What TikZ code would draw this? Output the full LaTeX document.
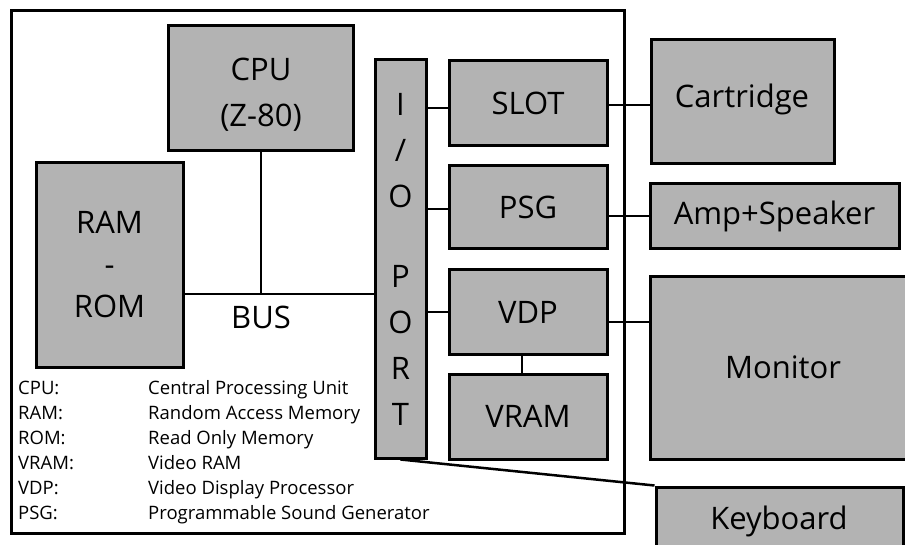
\documentclass[tikz,border=0pt]{standalone}
\usepackage{fontspec}
\setmainfont{Open Sans}
\definecolor{boxgray}{HTML}{B3B3B3}
\begin{document}
\begin{tikzpicture}[x=1pt,y=-1pt,
  box/.style={draw=black, line width=3pt, fill=boxgray, inner sep=0pt, align=center,
    font=\fontsize{31}{46}\selectfont},
  lbl/.style={inner sep=0pt, align=center, font=\fontsize{31}{46}\selectfont},
  conn/.style={draw=black, line width=2.5pt},
  legend/.style={anchor=base west, inner sep=0pt, font=\fontsize{18.5}{20}\selectfont}]
\useasboundingbox (0,0) rectangle (905,545);
\clip (0,0) rectangle (905,545);
% outer frame
\draw[line width=3pt] (11,11) rectangle (624,533);
% boxes
\node[box, minimum width=185pt, minimum height=125pt] (cpu) at (260.5,88.5) {};
\node[lbl] (cputext) at (261,95) {CPU\\(Z-80)};
\node[box, minimum width=147pt, minimum height=204pt, font=\fontsize{31}{42}\selectfont] (ram) at (109.5,265) {RAM\\-\\ROM};
\node[box, minimum width=51pt, minimum height=398pt, font=\fontsize{31}{46}\selectfont] (io) at (400.5,259) {I\\/\\O\\[34pt]P\\O\\R\\T};
\node[box, minimum width=158pt, minimum height=85pt] (slot) at (528,103.5) {SLOT};
\node[box, minimum width=158pt, minimum height=83pt] (psg) at (528,207.5) {PSG};
\node[box, minimum width=158pt, minimum height=84pt] (vdp) at (528,312) {VDP};
\node[box, minimum width=158pt, minimum height=85pt] (vram) at (528,416.5) {VRAM};
\node[box, minimum width=183pt, minimum height=124pt] (cart) at (742.5,102) {};
\node[lbl] (carttext) at (742,99) {Cartridge};
\node[box, minimum width=249pt, minimum height=65pt] (amp) at (774.5,216.5) {Amp+Speaker};
\node[box, minimum width=262pt, minimum height=182pt] (mon) at (781,368) {};
\node[lbl] (montext) at (783,367) {Monitor};
\node[box, minimum width=247pt, minimum height=73pt] (kbd) at (779.5,523.5) {};
\node[lbl] (kbdtext) at (779,521) {Keyboard};
% connectors
\coordinate (bus) at (261,294);
\draw[conn] (cpu.south -| bus) -- (bus);
\draw[conn] (ram.east |- bus) -- (io.west |- bus);
\node[lbl] (buslabel) at (261,317) {BUS};
\draw[conn] (io.east |- 0,108) -- (slot.west |- 0,108);
\draw[conn] (io.east |- 0,209) -- (psg.west |- 0,209);
\draw[conn] (io.east |- 0,312) -- (vdp.west |- 0,312);
\draw[conn] (slot.east |- 0,105) -- (cart.west |- 0,105);
\draw[conn] (psg.east |- 0,216) -- (amp.west |- 0,216);
\draw[conn] (vdp.east |- 0,322) -- (mon.west |- 0,322);
\draw[conn] (vdp.south -| 522,0) -- (vram.north -| 522,0);
\draw[conn] (io.south) -- (kbd.north west);
% legend
\foreach \ab/\full/\yy [count=\i] in {CPU:/Central Processing Unit/394, RAM:/Random Access Memory/419, ROM:/Read Only Memory/444, VRAM:/Video RAM/469, VDP:/Video Display Processor/494, PSG:/Programmable Sound Generator/519}{
  \node[legend] (ab\i) at (18,\yy) {\ab};
  \node[legend] (full\i) at (148,\yy) {\full};
}
\end{tikzpicture}
\end{document}
